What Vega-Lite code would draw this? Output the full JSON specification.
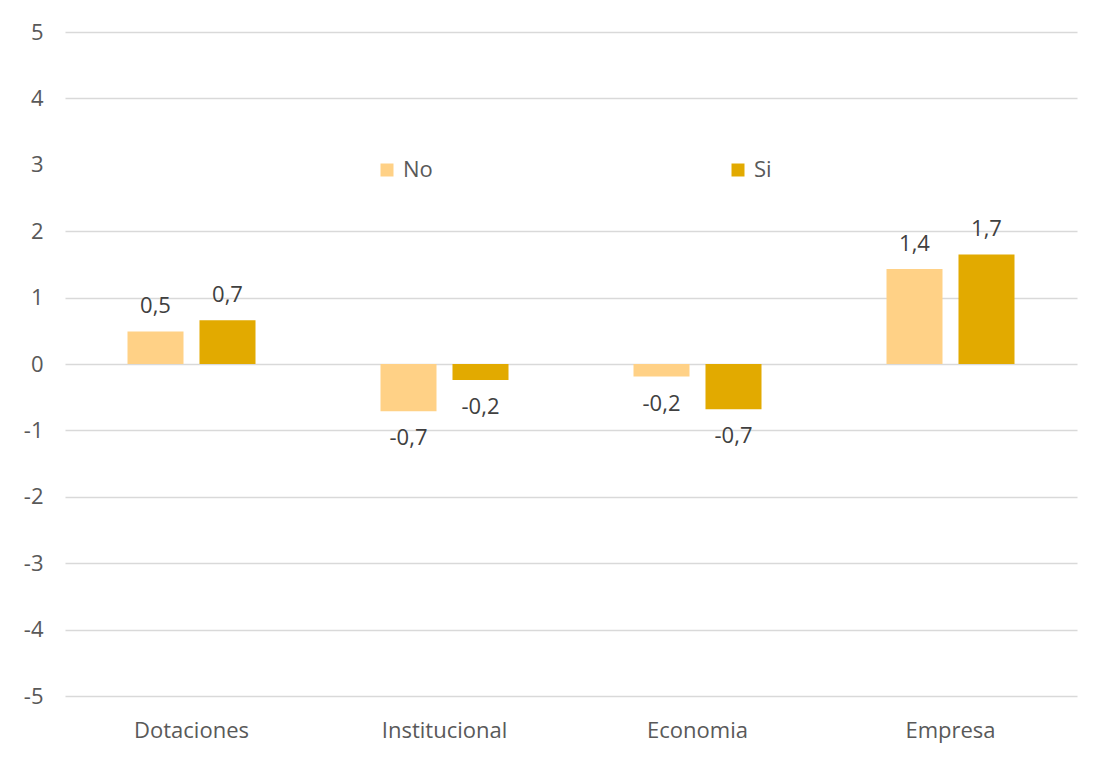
{
  "$schema": "https://vega.github.io/schema/vega-lite/v6.json",
  "width": 1012,
  "height": 664,
  "autosize": {"type": "none"},
  "padding": {"left": 65, "top": 32, "right": 21, "bottom": 62},
  "background": "white",
  "config": {
    "font": "Open Sans",
    "view": {"stroke": null},
    "axis": {"labelFont": "Open Sans", "labelColor": "#595959", "labelFontSize": 22}
  },
  "data": {
    "values": [
      {"cat": "Dotaciones", "serie": "No", "v": 0.49, "label": "0,5"},
      {"cat": "Dotaciones", "serie": "Si", "v": 0.66, "label": "0,7"},
      {"cat": "Institucional", "serie": "No", "v": -0.71, "label": "-0,7"},
      {"cat": "Institucional", "serie": "Si", "v": -0.24, "label": "-0,2"},
      {"cat": "Economia", "serie": "No", "v": -0.19, "label": "-0,2"},
      {"cat": "Economia", "serie": "Si", "v": -0.68, "label": "-0,7"},
      {"cat": "Empresa", "serie": "No", "v": 1.43, "label": "1,4"},
      {"cat": "Empresa", "serie": "Si", "v": 1.65, "label": "1,7"}
    ]
  },
  "encoding": {
    "x": {
      "field": "cat", "type": "nominal", "sort": null,
      "scale": {"paddingInner": 0, "paddingOuter": 0},
      "axis": {"title": null, "labelAngle": 0, "domain": false, "ticks": false, "labelPadding": 24, "grid": false}
    },
    "xOffset": {
      "field": "serie", "type": "nominal", "sort": ["No", "Si"],
      "scale": {"paddingInner": 0.222, "paddingOuter": 0.868}
    },
    "y": {
      "field": "v", "type": "quantitative",
      "scale": {"domain": [-5, 5], "nice": false, "zero": false},
      "axis": {
        "title": null, "values": [-5, -4, -3, -2, -1, 0, 1, 2, 3, 4, 5],
        "labelExpr": "replace(datum.label, '−', '-')",
        "domain": false, "ticks": false, "labelPadding": 22,
        "gridColor": {"condition": {"test": "datum.value === 3", "value": "transparent"}, "value": "#d9d9d9"},
        "gridWidth": 1.5
      }
    }
  },
  "layer": [
    {
      "mark": {"type": "bar"},
      "encoding": {
        "color": {
          "field": "serie", "type": "nominal",
          "scale": {"domain": ["No", "Si"], "range": ["#FFD186", "#E2AA00"]},
          "legend": {
            "title": null, "orient": "none", "direction": "horizontal",
            "legendX": 311, "legendY": 127,
            "symbolType": "square", "symbolSize": 169, "symbolStrokeWidth": 0,
            "labelFontSize": 22, "labelColor": "#595959", "labelFont": "Open Sans",
            "labelOffset": 5, "columnPadding": 294, "padding": 0
          }
        }
      }
    },
    {
      "transform": [{"filter": "datum.v >= 0"}],
      "mark": {"type": "text", "baseline": "alphabetic", "dy": -18, "fontSize": 22, "color": "#404040", "font": "Open Sans"},
      "encoding": {"text": {"field": "label"}}
    },
    {
      "transform": [{"filter": "datum.v < 0"}],
      "mark": {"type": "text", "baseline": "top", "dy": 17, "fontSize": 22, "color": "#404040", "font": "Open Sans"},
      "encoding": {"text": {"field": "label"}}
    }
  ]
}
